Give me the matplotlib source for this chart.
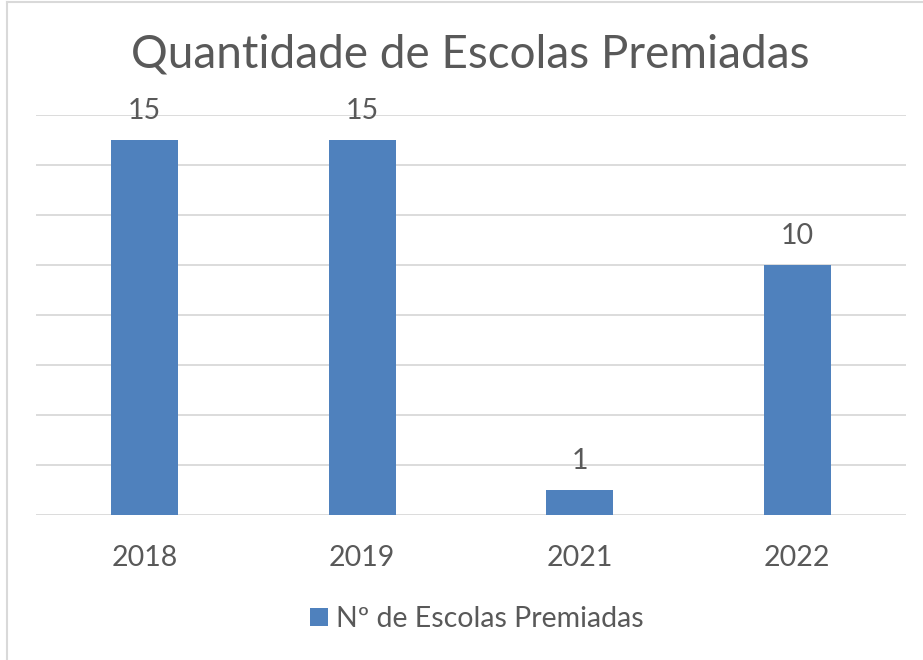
import matplotlib
matplotlib.use("Agg")
import matplotlib.pyplot as plt
from matplotlib.lines import Line2D
from matplotlib.transforms import blended_transform_factory

# data
anos = ["2018", "2019", "2021", "2022"]
escolas = [15, 15, 1, 10]
titulo = "Quantidade de Escolas Premiadas"
serie = "Nº de Escolas Premiadas"

W, H = 923, 660
cor_barra = "#4F81BD"
cor_texto = "#595959"
cor_grade = "#D9D9D9"

plt.rcParams["font.family"] = ["Lato", "DejaVu Sans"]

fig = plt.figure(figsize=(W / 100, H / 100), dpi=100)
ax = fig.add_axes([36 / W, 1 - 515 / H, (906 - 36) / W, (515 - 115) / H])

x = range(len(anos))
barras = ax.bar(x, escolas, width=0.31, color=cor_barra, label=serie, zorder=3)

ax.set_xlim(-0.5, len(anos) - 0.5)
ax.set_ylim(0, 16)
ax.set_yticks(range(0, 17, 2))
ax.yaxis.grid(True, color=cor_grade, linewidth=1.3, zorder=0)
ax.set_yticklabels([])
ax.tick_params(left=False, bottom=False, labelbottom=False)
for s in ax.spines.values():
    s.set_visible(False)

# data labels
for xi, v in zip(x, escolas):
    ax.annotate(str(v), (xi, v), xytext=(0, 15), textcoords="offset points",
                ha="center", va="baseline", fontsize=20.5, color=cor_texto)

# category labels
tr = blended_transform_factory(ax.transData, fig.transFigure)
for xi, a in zip(x, anos):
    ax.text(xi, 1 - 566 / H, a, transform=tr, ha="center", va="baseline",
            fontsize=20.5, color=cor_texto)

fig.text(470 / W, 1 - 68 / H, titulo, ha="center", va="baseline",
         fontsize=33, color=cor_texto)

leg = fig.legend(handles=[barras], labels=[serie], loc="center",
                 bbox_to_anchor=(477 / W, 1 - 619 / H), frameon=False,
                 fontsize=20.5, handlelength=0.63, handleheight=0.63,
                 handletextpad=0.3, labelcolor=cor_texto)

# chart border (left and top edges visible in crop)
fig.add_artist(Line2D([6.5 / W, 6.5 / W], [0, 1 - 1.5 / H], color=cor_grade,
                      linewidth=1.5, transform=fig.transFigure))
fig.add_artist(Line2D([6.5 / W, 1], [1 - 1.5 / H, 1 - 1.5 / H], color=cor_grade,
                      linewidth=1.5, transform=fig.transFigure))

fig.savefig("out.png", dpi=100)
